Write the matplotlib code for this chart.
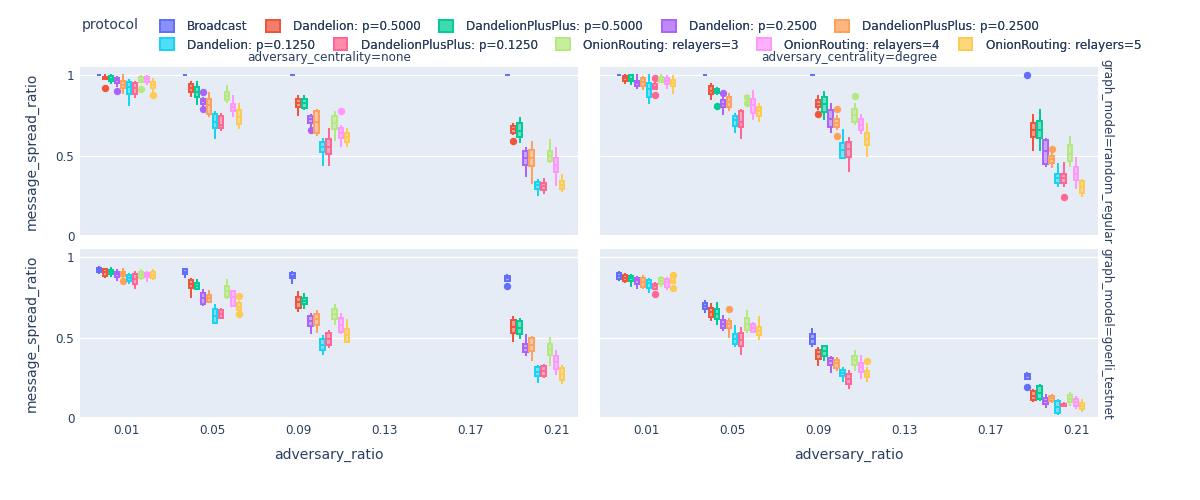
import matplotlib
matplotlib.use("Agg")
import matplotlib.pyplot as plt
from matplotlib.patches import Patch
from matplotlib.colors import to_rgba

plt.rcParams['font.family'] = ['DejaVu Sans']

# ---------------- data ----------------
PROTOCOLS = [
    "Broadcast", "Dandelion: p=0.5000", "DandelionPlusPlus: p=0.5000",
    "Dandelion: p=0.2500", "DandelionPlusPlus: p=0.2500",
    "Dandelion: p=0.1250", "DandelionPlusPlus: p=0.1250",
    "OnionRouting: relayers=3", "OnionRouting: relayers=4", "OnionRouting: relayers=5",
]
COLORS = ["#636EFA", "#EF553B", "#00CC96", "#AB63FA", "#FFA15A",
          "#19D3F3", "#FF6692", "#B6E880", "#FF97FF", "#FECB52"]
ADVERSARY_RATIOS = [0.01, 0.05, 0.1, 0.2]
X_TICKS = [0.01, 0.05, 0.09, 0.13, 0.17, 0.21]
X_TICK_LABELS = ["0.01", "0.05", "0.09", "0.13", "0.17", "0.21"]
Y_TICKS = [0, 0.5, 1]
Y_TICK_LABELS = ["0", "0.5", "1"]
COL_TITLES = ["adversary_centrality=none", "adversary_centrality=degree"]
ROW_TITLES = ["graph_model=random_regular", "graph_model=goerli_testnet"]

# box stats per protocol, one tuple (whislo, q1, median, q3, whishi) per adversary ratio
RR_NONE = [
    [(1, 1, 1, 1, 1), (1, 1, 1, 1, 1), (1, 1, 1, 1, 1), (1, 1, 1, 1, 1)],
    [(0.977, 0.977, 0.985, 0.992, 1.0), (0.870, 0.899, 0.924, 0.947, 0.957), (0.755, 0.802, 0.827, 0.850, 0.874), (0.635, 0.640, 0.663, 0.685, 0.695)],
    [(0.953, 0.965, 0.98, 0.994, 1.0), (0.823, 0.864, 0.895, 0.926, 0.961), (0.79, 0.796, 0.83, 0.854, 0.874), (0.586, 0.613, 0.652, 0.704, 0.735)],
    [(0.936, 0.953, 0.97, 0.986, 0.99), (0.80, 0.819, 0.837, 0.854, 0.86), (0.68, 0.704, 0.726, 0.747, 0.755), (0.37, 0.438, 0.484, 0.525, 0.545)],
    [(0.891, 0.922, 0.942, 0.967, 1.0), (0.747, 0.761, 0.813, 0.85, 0.891), (0.628, 0.642, 0.71, 0.776, 0.782), (0.329, 0.432, 0.484, 0.535, 0.586)],
    [(0.817, 0.885, 0.926, 0.961, 0.973), (0.607, 0.669, 0.71, 0.761, 0.772), (0.438, 0.519, 0.556, 0.586, 0.603), (0.251, 0.292, 0.315, 0.335, 0.35)],
    [(0.866, 0.885, 0.92, 0.953, 0.961), (0.66, 0.669, 0.689, 0.745, 0.761), (0.438, 0.508, 0.556, 0.603, 0.665), (0.267, 0.288, 0.309, 0.329, 0.356)],
    [(0.957, 0.957, 0.97, 0.988, 0.994), (0.833, 0.844, 0.874, 0.899, 0.932), (0.595, 0.663, 0.704, 0.745, 0.772), (0.457, 0.467, 0.498, 0.525, 0.595)],
    [(0.944, 0.957, 0.975, 0.988, 0.994), (0.745, 0.776, 0.802, 0.823, 0.874), (0.56, 0.607, 0.642, 0.673, 0.683), (0.319, 0.397, 0.442, 0.484, 0.545)],
    [(0.905, 0.924, 0.94, 0.961, 0.975), (0.669, 0.695, 0.741, 0.782, 0.823), (0.56, 0.586, 0.613, 0.638, 0.663), (0.278, 0.294, 0.319, 0.344, 0.377)],
]
RR_NONE_OUT = {(1, 0): [0.92], (1, 3): [0.59], (3, 0): [0.90], (3, 1): [0.895, 0.788],
               (3, 2): [0.66], (7, 0): [0.916], (8, 2): [0.78], (9, 0): [0.88]}

RR_DEGREE = [
    [(1, 1, 1, 1, 1), (1, 1, 1, 1, 1), (1, 1, 1, 1, 1), (1, 1, 1, 1, 1)],
    [(0.953, 0.963, 0.981, 0.998, 1.0), (0.854, 0.881, 0.905, 0.932, 0.947), (0.79, 0.802, 0.823, 0.844, 0.874), (0.535, 0.613, 0.658, 0.704, 0.755)],
    [(0.944, 0.963, 0.98, 1.0, 1.0), (0.885, 0.889, 0.9, 0.916, 0.922), (0.726, 0.772, 0.819, 0.864, 0.895), (0.535, 0.607, 0.658, 0.714, 0.782)],
    [(0.922, 0.932, 0.951, 0.967, 1.0), (0.761, 0.802, 0.823, 0.844, 0.864), (0.644, 0.675, 0.73, 0.782, 0.823), (0.432, 0.447, 0.525, 0.597, 0.603)],
    [(0.916, 0.936, 0.961, 0.981, 0.99), (0.786, 0.802, 0.833, 0.864, 0.881), (0.665, 0.675, 0.704, 0.726, 0.745), (0.426, 0.453, 0.477, 0.498, 0.51)],
    [(0.827, 0.866, 0.912, 0.953, 1.0), (0.644, 0.685, 0.72, 0.747, 0.757), (0.484, 0.484, 0.535, 0.576, 0.66), (0.309, 0.329, 0.36, 0.387, 0.449)],
    [(0.916, 0.916, 0.93, 0.944, 0.95), (0.607, 0.675, 0.71, 0.776, 0.786), (0.401, 0.488, 0.541, 0.586, 0.607), (0.31, 0.329, 0.36, 0.387, 0.455)],
    [(0.957, 0.957, 0.973, 0.992, 1.0), (0.854, 0.854, 0.864, 0.874, 0.88), (0.695, 0.71, 0.751, 0.788, 0.823), (0.436, 0.463, 0.508, 0.566, 0.615)],
    [(0.922, 0.944, 0.963, 0.986, 0.994), (0.726, 0.765, 0.813, 0.854, 0.901), (0.64, 0.658, 0.693, 0.726, 0.75), (0.298, 0.35, 0.387, 0.426, 0.484)],
    [(0.891, 0.932, 0.953, 0.973, 0.994), (0.716, 0.747, 0.776, 0.802, 0.823), (0.498, 0.566, 0.601, 0.638, 0.695), (0.247, 0.267, 0.302, 0.34, 0.348)],
]
RR_DEGREE_OUT = {(0, 3): [1.0], (1, 2): [0.761], (2, 1): [0.809], (3, 1): [0.891],
                 (4, 2): [0.792, 0.623], (4, 3): [0.541], (6, 0): [0.981, 0.879],
                 (6, 3): [0.243], (7, 1): [0.829], (7, 2): [0.87]}

GOERLI_NONE = [
    [(0.90, 0.907, 0.921, 0.936, 0.94), (0.876, 0.894, 0.911, 0.927, 0.927), (0.838, 0.869, 0.884, 0.9, 0.911), (0.853, 0.853, 0.87, 0.885, 0.89)],
    [(0.88, 0.886, 0.907, 0.925, 0.93), (0.751, 0.807, 0.832, 0.859, 0.865), (0.666, 0.683, 0.724, 0.755, 0.782), (0.479, 0.527, 0.568, 0.61, 0.631)],
    [(0.886, 0.898, 0.911, 0.923, 0.936), (0.80, 0.803, 0.824, 0.842, 0.859), (0.687, 0.707, 0.728, 0.749, 0.77), (0.496, 0.521, 0.562, 0.604, 0.616)],
    [(0.859, 0.876, 0.894, 0.911, 0.919), (0.70, 0.71, 0.745, 0.776, 0.795), (0.527, 0.573, 0.604, 0.637, 0.647), (0.392, 0.407, 0.434, 0.461, 0.517)],
    [(0.875, 0.884, 0.897, 0.911, 0.927), (0.72, 0.72, 0.745, 0.766, 0.79), (0.537, 0.579, 0.616, 0.645, 0.666), (0.357, 0.413, 0.454, 0.496, 0.502)],
    [(0.838, 0.853, 0.873, 0.89, 0.894), (0.589, 0.589, 0.637, 0.678, 0.70), (0.398, 0.423, 0.454, 0.49, 0.51), (0.222, 0.257, 0.288, 0.313, 0.32)],
    [(0.807, 0.832, 0.865, 0.894, 0.907), (0.62, 0.62, 0.645, 0.672, 0.68), (0.438, 0.454, 0.492, 0.527, 0.541), (0.251, 0.257, 0.293, 0.32, 0.33)],
    [(0.863, 0.869, 0.89, 0.907, 0.919), (0.745, 0.755, 0.79, 0.824, 0.859), (0.585, 0.616, 0.645, 0.678, 0.703), (0.33, 0.392, 0.427, 0.461, 0.496)],
    [(0.853, 0.876, 0.89, 0.9, 0.907), (0.699, 0.699, 0.755, 0.79, 0.79), (0.527, 0.533, 0.579, 0.62, 0.645), (0.272, 0.305, 0.346, 0.382, 0.417)],
    [(0.863, 0.869, 0.89, 0.911, 0.919), (0.672, 0.672, 0.693, 0.714, 0.72), (0.469, 0.475, 0.517, 0.552, 0.608), (0.216, 0.237, 0.272, 0.309, 0.324)],
]
GOERLI_NONE_OUT = {(0, 3): [0.822], (4, 0): [0.853], (9, 1): [0.759, 0.645]}

GOERLI_DEGREE = [
    [(0.857, 0.863, 0.884, 0.9, 0.907), (0.662, 0.678, 0.695, 0.714, 0.728), (0.448, 0.459, 0.49, 0.523, 0.552), (0.24, 0.24, 0.26, 0.275, 0.28)],
    [(0.845, 0.853, 0.873, 0.89, 0.895), (0.61, 0.631, 0.662, 0.687, 0.707), (0.33, 0.365, 0.396, 0.423, 0.434), (0.102, 0.112, 0.133, 0.164, 0.174)],
    [(0.824, 0.853, 0.869, 0.886, 0.89), (0.585, 0.616, 0.647, 0.678, 0.714), (0.361, 0.382, 0.413, 0.444, 0.45), (0.112, 0.118, 0.154, 0.195, 0.205)],
    [(0.807, 0.834, 0.857, 0.873, 0.88), (0.548, 0.562, 0.585, 0.61, 0.635), (0.282, 0.326, 0.351, 0.371, 0.376), (0.064, 0.085, 0.106, 0.122, 0.139)],
    [(0.807, 0.817, 0.849, 0.873, 0.886), (0.506, 0.562, 0.585, 0.604, 0.616), (0.30, 0.31, 0.34, 0.36, 0.37), (0.097, 0.102, 0.122, 0.137, 0.14)],
    [(0.782, 0.811, 0.838, 0.859, 0.865), (0.448, 0.459, 0.49, 0.521, 0.573), (0.23, 0.257, 0.278, 0.299, 0.309), (0.023, 0.029, 0.064, 0.106, 0.112)],
    [(0.80, 0.805, 0.82, 0.835, 0.842), (0.398, 0.45, 0.485, 0.527, 0.558), (0.185, 0.21, 0.241, 0.272, 0.293), (0.072, 0.075, 0.081, 0.087, 0.093)],
    [(0.824, 0.832, 0.853, 0.869, 0.88), (0.533, 0.544, 0.585, 0.624, 0.666), (0.297, 0.326, 0.361, 0.382, 0.417), (0.077, 0.098, 0.118, 0.139, 0.154)],
    [(0.803, 0.817, 0.844, 0.865, 0.873), (0.533, 0.533, 0.558, 0.585, 0.593), (0.247, 0.288, 0.315, 0.34, 0.382), (0.06, 0.071, 0.095, 0.118, 0.127)],
    [(0.838, 0.838, 0.855, 0.869, 0.875), (0.49, 0.517, 0.541, 0.568, 0.627), (0.23, 0.251, 0.274, 0.293, 0.309), (0.039, 0.054, 0.075, 0.091, 0.112)],
]
GOERLI_DEGREE_OUT = {(0, 3): [0.191], (4, 1): [0.678], (6, 0): [0.774],
                     (9, 0): [0.89, 0.807], (9, 2): [0.351]}

# ---------------- layout ----------------
W, H = 1200, 500
TEXT = "#2a3f5f"
BG = "#E5ECF6"
PX = 0.72  # points per pixel at dpi 100

fig = plt.figure(figsize=(W / 100, H / 100), dpi=100)


def fx(px):
    return px / W


def fy(py):
    return 1 - py / H


COL_X = [(80, 578), (600, 1098)]
ROW_Y = [(67, 236), (249, 418)]

PANELS = [
    (RR_NONE, RR_NONE_OUT, 0, 0),
    (RR_DEGREE, RR_DEGREE_OUT, 0, 1),
    (GOERLI_NONE, GOERLI_NONE_OUT, 1, 0),
    (GOERLI_DEGREE, GOERLI_DEGREE_OUT, 1, 1),
]

SLOT = 0.0028
BOX_W = SLOT * 0.7
n = len(PROTOCOLS)

for data, outs, r, c in PANELS:
    x0, x1 = COL_X[c]
    y0, y1 = ROW_Y[r]
    ax = fig.add_axes([fx(x0), fy(y1), fx(x1 - x0), (y1 - y0) / H])
    ax.set_facecolor(BG)
    for s in ax.spines.values():
        s.set_visible(False)
    ax.set_xlim(-0.0114, 0.2202)
    ax.set_ylim(-0.002, 1.052)
    ax.set_yticks(Y_TICKS)
    ax.set_xticks(X_TICKS)
    ax.grid(axis='y', color='white', linewidth=1 * PX * 1.4)
    ax.grid(axis='x', visible=False)
    ax.axhline(0, color='white', linewidth=2 * PX, zorder=0.5)
    ax.set_axisbelow(True)
    ax.tick_params(length=0, labelsize=12 * PX, labelcolor=TEXT, pad=4)
    if c == 0:
        ax.set_yticklabels(Y_TICK_LABELS)
    else:
        ax.set_yticklabels([])
    if r == 1:
        ax.set_xticklabels(X_TICK_LABELS)
    else:
        ax.set_xticklabels([])

    for i, (proto, col) in enumerate(zip(PROTOCOLS, COLORS)):
        off = (i - (n - 1) / 2) * SLOT
        stats = []
        for j, x in enumerate(ADVERSARY_RATIOS):
            lo, q1, med, q3, hi = data[i][j]
            stats.append(dict(whislo=lo, q1=q1, med=med, q3=q3, whishi=hi,
                              fliers=outs.get((i, j), [])))
        ax.bxp(stats, positions=[x + off for x in ADVERSARY_RATIOS], widths=BOX_W,
               patch_artist=True, showcaps=False, manage_ticks=False,
               boxprops=dict(facecolor=to_rgba(col, 0.5), edgecolor=col, linewidth=2 * PX),
               medianprops=dict(color=col, linewidth=2 * PX),
               whiskerprops=dict(color=col, linewidth=2 * PX),
               flierprops=dict(marker='o', markerfacecolor=col, markeredgecolor=col,
                               markersize=6 * PX, linestyle='none'))

# axis titles
for r, (y0, y1) in enumerate(ROW_Y):
    fig.text(fx(32), fy((y0 + y1) / 2), "message_spread_ratio", rotation=90,
             ha='center', va='center', fontsize=14 * PX, color=TEXT)
    fig.text(fx(1107), fy((y0 + y1) / 2), ROW_TITLES[r], rotation=-90,
             ha='center', va='center', fontsize=12 * PX, color=TEXT)
for c, (x0, x1) in enumerate(COL_X):
    fig.text(fx((x0 + x1) / 2), fy(455), "adversary_ratio",
             ha='center', va='center', fontsize=14 * PX, color=TEXT)
    fig.text(fx((x0 + x1) / 2), fy(57), COL_TITLES[c],
             ha='center', va='center', fontsize=12 * PX, color=TEXT)

# legend
fig.text(fx(82), fy(25), "protocol", ha='left', va='center', fontsize=14 * PX, color=TEXT)
handles = [Patch(facecolor=to_rgba(col, 0.5), edgecolor=col, linewidth=2 * PX) for col in COLORS]
for row, yc in enumerate([26.7, 45]):
    idx = range(row * 5, row * 5 + 5)
    leg = fig.legend([handles[k] for k in idx], [PROTOCOLS[k] for k in idx],
                     loc='center left', bbox_to_anchor=(fx(160), fy(yc)), ncol=5,
                     frameon=False, fontsize=12 * PX, handlelength=1.15, handleheight=1.15,
                     handletextpad=1.1, columnspacing=1.55, borderpad=0, borderaxespad=0,
                     labelcolor=TEXT)
    fig.add_artist(leg)

fig.savefig("out.png", dpi=100, facecolor='white')
